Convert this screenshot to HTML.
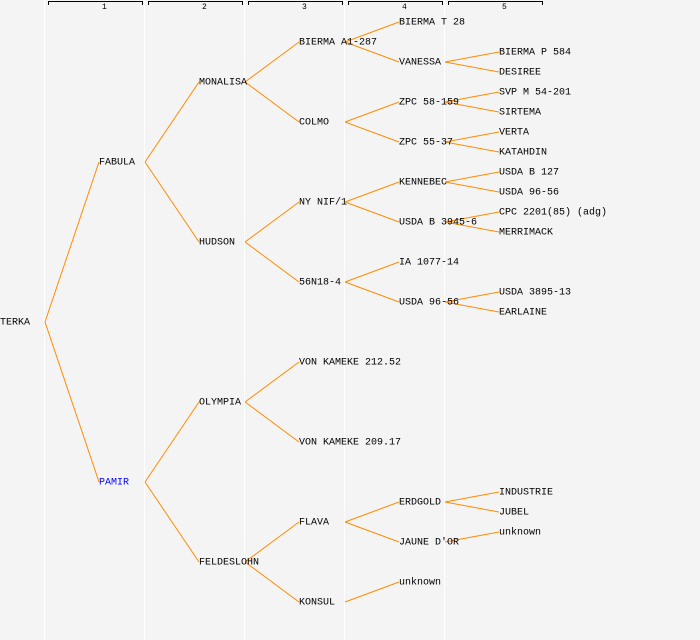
<!DOCTYPE html>
<html><head><style>
html,body{margin:0;padding:0;background:#f4f4f4;}
svg{display:block;}
text{font-family:"Liberation Mono",monospace;font-size:10px;fill:#000;dominant-baseline:middle;}
.h{font-size:8px;}
line.c{stroke:#ff8c00;stroke-width:1;}
</style></head><body>
<svg width="700" height="640" viewBox="0 0 700 640">
<rect width="700" height="640" fill="#f4f4f4"/>
<g stroke="#fff" stroke-width="1">
<line x1="44.5" y1="0" x2="44.5" y2="640"/><line x1="144.5" y1="0" x2="144.5" y2="640"/><line x1="244.5" y1="0" x2="244.5" y2="640"/><line x1="344.5" y1="0" x2="344.5" y2="640"/><line x1="444.5" y1="0" x2="444.5" y2="640"/>
</g>
<g stroke="#000" fill="none" stroke-width="1">
<path d="M48.5 5V1.5H142.5V5"/><path d="M148.5 5V1.5H242.5V5"/><path d="M248.5 5V1.5H342.5V5"/><path d="M348.5 5V1.5H442.5V5"/><path d="M448.5 5V1.5H542.5V5"/>
</g>
<text class="h" x="102" y="7">1</text><text class="h" x="202" y="7">2</text><text class="h" x="302" y="7">3</text><text class="h" x="402" y="7">4</text><text class="h" x="502" y="7">5</text>
<g class="l">
<line class="c" x1="45" y1="322" x2="99" y2="162"/><line class="c" x1="45" y1="322" x2="99" y2="482"/>
<line class="c" x1="145" y1="162" x2="199" y2="82"/><line class="c" x1="145" y1="162" x2="199" y2="242"/>
<line class="c" x1="145" y1="482" x2="199" y2="402"/><line class="c" x1="145" y1="482" x2="199" y2="562"/>
<line class="c" x1="245" y1="82" x2="299" y2="42"/><line class="c" x1="245" y1="82" x2="299" y2="122"/>
<line class="c" x1="245" y1="242" x2="299" y2="202"/><line class="c" x1="245" y1="242" x2="299" y2="282"/>
<line class="c" x1="245" y1="402" x2="299" y2="362"/><line class="c" x1="245" y1="402" x2="299" y2="442"/>
<line class="c" x1="245" y1="562" x2="299" y2="522"/><line class="c" x1="245" y1="562" x2="299" y2="602"/>
<line class="c" x1="345" y1="42" x2="399" y2="22"/><line class="c" x1="345" y1="42" x2="399" y2="62"/>
<line class="c" x1="345" y1="122" x2="399" y2="102"/><line class="c" x1="345" y1="122" x2="399" y2="142"/>
<line class="c" x1="345" y1="202" x2="399" y2="182"/><line class="c" x1="345" y1="202" x2="399" y2="222"/>
<line class="c" x1="345" y1="282" x2="399" y2="262"/><line class="c" x1="345" y1="282" x2="399" y2="302"/>
<line class="c" x1="345" y1="522" x2="399" y2="502"/><line class="c" x1="345" y1="522" x2="399" y2="542"/>
<line class="c" x1="345" y1="602" x2="399" y2="582"/>
<line class="c" x1="445" y1="62" x2="499" y2="52"/><line class="c" x1="445" y1="62" x2="499" y2="72"/>
<line class="c" x1="445" y1="102" x2="499" y2="92"/><line class="c" x1="445" y1="102" x2="499" y2="112"/>
<line class="c" x1="445" y1="142" x2="499" y2="132"/><line class="c" x1="445" y1="142" x2="499" y2="152"/>
<line class="c" x1="445" y1="182" x2="499" y2="172"/><line class="c" x1="445" y1="182" x2="499" y2="192"/>
<line class="c" x1="445" y1="222" x2="499" y2="212"/><line class="c" x1="445" y1="222" x2="499" y2="232"/>
<line class="c" x1="445" y1="302" x2="499" y2="292"/><line class="c" x1="445" y1="302" x2="499" y2="312"/>
<line class="c" x1="445" y1="502" x2="499" y2="492"/><line class="c" x1="445" y1="502" x2="499" y2="512"/>
<line class="c" x1="445" y1="542" x2="499" y2="532"/>
</g>
<text x="0" y="322">TERKA</text>
<text x="99" y="162">FABULA</text>
<text x="99" y="482" style="fill:#0000ff">PAMIR</text>
<text x="199" y="82">MONALISA</text><text x="199" y="242">HUDSON</text><text x="199" y="402">OLYMPIA</text><text x="199" y="562">FELDESLOHN</text>
<text x="299" y="42">BIERMA A1-287</text><text x="299" y="122">COLMO</text><text x="299" y="202">NY NIF/1</text><text x="299" y="282">56N18-4</text>
<text x="299" y="362">VON KAMEKE 212.52</text><text x="299" y="442">VON KAMEKE 209.17</text><text x="299" y="522">FLAVA</text><text x="299" y="602">KONSUL</text>
<text x="399" y="22">BIERMA T 28</text><text x="399" y="62">VANESSA</text><text x="399" y="102">ZPC 58-159</text><text x="399" y="142">ZPC 55-37</text>
<text x="399" y="182">KENNEBEC</text><text x="399" y="222">USDA B 3945-6</text><text x="399" y="262">IA 1077-14</text><text x="399" y="302">USDA 96-56</text>
<text x="399" y="502">ERDGOLD</text><text x="399" y="542">JAUNE D'OR</text><text x="399" y="582">unknown</text>
<text x="499" y="52">BIERMA P 584</text><text x="499" y="72">DESIREE</text><text x="499" y="92">SVP M 54-201</text><text x="499" y="112">SIRTEMA</text>
<text x="499" y="132">VERTA</text><text x="499" y="152">KATAHDIN</text><text x="499" y="172">USDA B 127</text><text x="499" y="192">USDA 96-56</text>
<text x="499" y="212">CPC 2201(85) (adg)</text><text x="499" y="232">MERRIMACK</text><text x="499" y="292">USDA 3895-13</text><text x="499" y="312">EARLAINE</text>
<text x="499" y="492">INDUSTRIE</text><text x="499" y="512">JUBEL</text><text x="499" y="532">unknown</text>
</svg>
</body></html>
